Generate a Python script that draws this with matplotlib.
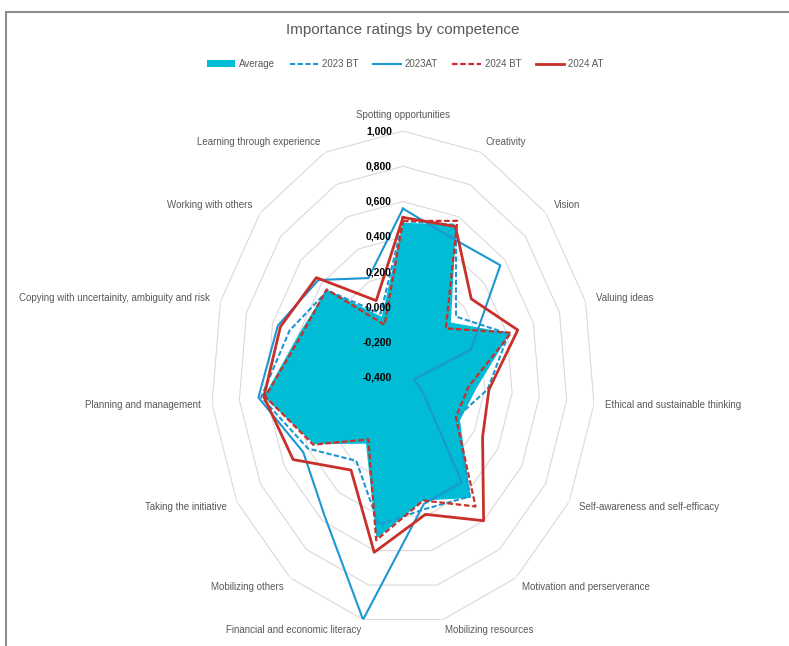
import numpy as np
import matplotlib
matplotlib.use("Agg")
import matplotlib.pyplot as plt
from matplotlib.patches import Patch, Rectangle
from matplotlib.lines import Line2D

FONT = ["Liberation Sans Narrow", "Liberation Sans", "DejaVu Sans"]
plt.rcParams["font.family"] = FONT

categories = [
    "Spotting opportunities",
    "Creativity",
    "Vision",
    "Valuing ideas",
    "Ethical and sustainable thinking",
    "Self-awareness and self-efficacy",
    "Motivation and perserverance",
    "Mobilizing resources",
    "Financial and economic literacy",
    "Mobilizing others",
    "Taking the initiative",
    "Planning and management",
    "Copying with uncertainity, ambiguity and risk",
    "Working with others",
    "Learning through experience",
]

average = [0.48, 0.55, 0.07, 0.42, 0.14, 0.08, 0.44, 0.31, 0.53, 0.06, 0.35, 0.62, 0.40, 0.35, -0.02]
bt_2023 = [0.49, 0.55, 0.12, 0.41, 0.22, 0.05, 0.43, 0.36, 0.45, 0.18, 0.40, 0.64, 0.47, 0.34, 0.00]
at_2023 = [0.56, 0.47, 0.555, 0.12, -0.32, -0.23, 0.33, 0.33, 1.00, 0.57, 0.44, 0.66, 0.56, 0.43, 0.22]
bt_2024 = [0.49, 0.575, 0.02, 0.43, 0.08, 0.045, 0.50, 0.31, 0.54, 0.03, 0.356, 0.61, 0.38, 0.35, -0.07]
at_2024 = [0.51, 0.54, 0.27, 0.48, 0.23, 0.27, 0.60, 0.39, 0.61, 0.245, 0.525, 0.62, 0.54, 0.45, 0.08]

tick_values = [-0.4, -0.2, 0.0, 0.2, 0.4, 0.6, 0.8, 1.0]
tick_labels = ["-0,400", "-0,200", "0,000", "0,200", "0,400", "0,600", "0,800", "1,000"]

CYAN = "#00BCD4"
BLUE = "#1E96D2"
RED = "#C8302A"
GRID = "#D9D9D9"
TEXT = "#595959"

DPI = 100
fig = plt.figure(figsize=(7.89, 6.46), dpi=DPI)
fig.patch.set_facecolor("white")

ax = fig.add_axes([211 / 789, 21 / 646, 384 / 789, 494 / 646], projection="polar")
ax.set_aspect("auto")
ax.set_theta_zero_location("N")
ax.set_theta_direction(-1)
ax.set_ylim(-0.4, 1.0)
ax.set_xticks([])
ax.set_yticks([])
ax.grid(False)
ax.spines["polar"].set_visible(False)
ax.patch.set_visible(False)

n = len(categories)
theta = np.arange(n) * 2 * np.pi / n
theta_c = np.append(theta, theta[0])


def closed(vals):
    return np.append(vals, vals[0])


# polygon rings
for v in tick_values[1:]:
    ax.plot(theta_c, [v] * (n + 1), color=GRID, lw=0.8, zorder=1)

# series
ax.fill(theta_c, closed(average), color=CYAN, lw=0, zorder=2)
ax.plot(theta_c, closed(bt_2023), color=BLUE, lw=1.5, ls=(0, (2.5, 1.2)), zorder=3)
ax.plot(theta_c, closed(at_2023), color=BLUE, lw=1.5, zorder=4)
ax.plot(theta_c, closed(bt_2024), color=RED, lw=1.6, ls=(0, (2.5, 1.2)), zorder=5)
ax.plot(theta_c, closed(at_2024), color=RED, lw=2.0, zorder=6)

# value labels along the top spoke
px = 72 / DPI
for v, lab in zip(tick_values, tick_labels):
    ax.annotate(lab, xy=(0, v), xytext=(-11 * px, 0), textcoords="offset points",
                ha="right", va="center", fontsize=7.5, fontweight="bold",
                color="black", zorder=7, annotation_clip=False)

# category labels
for t, name in zip(theta, categories):
    s, c = np.sin(t), np.cos(t)
    off = 11 * px
    if abs(s) < 1e-6:
        ha, va = "center", "bottom"
    else:
        ha = "left" if s > 0 else "right"
        va = "center"
    ax.annotate(name, xy=(t, 1.0), xytext=(off * s, off * c), textcoords="offset points",
                ha=ha, va=va, fontsize=7, color=TEXT, annotation_clip=False)

fig.text(403 / 789, 1 - 30 / 646, "Importance ratings by competence",
         ha="center", va="center", fontsize=11, color=TEXT)

handles = [
    Patch(facecolor=CYAN, edgecolor="none", label="Average"),
    Line2D([], [], color=BLUE, lw=1.5, ls=(0, (2.5, 1.2)), label="2023 BT"),
    Line2D([], [], color=BLUE, lw=1.5, label="2023AT"),
    Line2D([], [], color=RED, lw=1.6, ls=(0, (2.5, 1.2)), label="2024 BT"),
    Line2D([], [], color=RED, lw=2.0, label="2024 AT"),
]
leg = fig.legend(handles=handles, loc="center", bbox_to_anchor=(405 / 789, 1 - 64 / 646),
                 ncol=5, frameon=False, fontsize=7, handlelength=2.9,
                 handletextpad=0.4, columnspacing=1.5)
for txt in leg.get_texts():
    txt.set_color(TEXT)

fig.add_artist(Rectangle((6 / 789, -0.1), 1.2, 1.1 - 12 / 646, transform=fig.transFigure,
                         fill=False, edgecolor="#8C8C8C", lw=1.5))

fig.savefig("out.png", dpi=DPI, facecolor="white")
